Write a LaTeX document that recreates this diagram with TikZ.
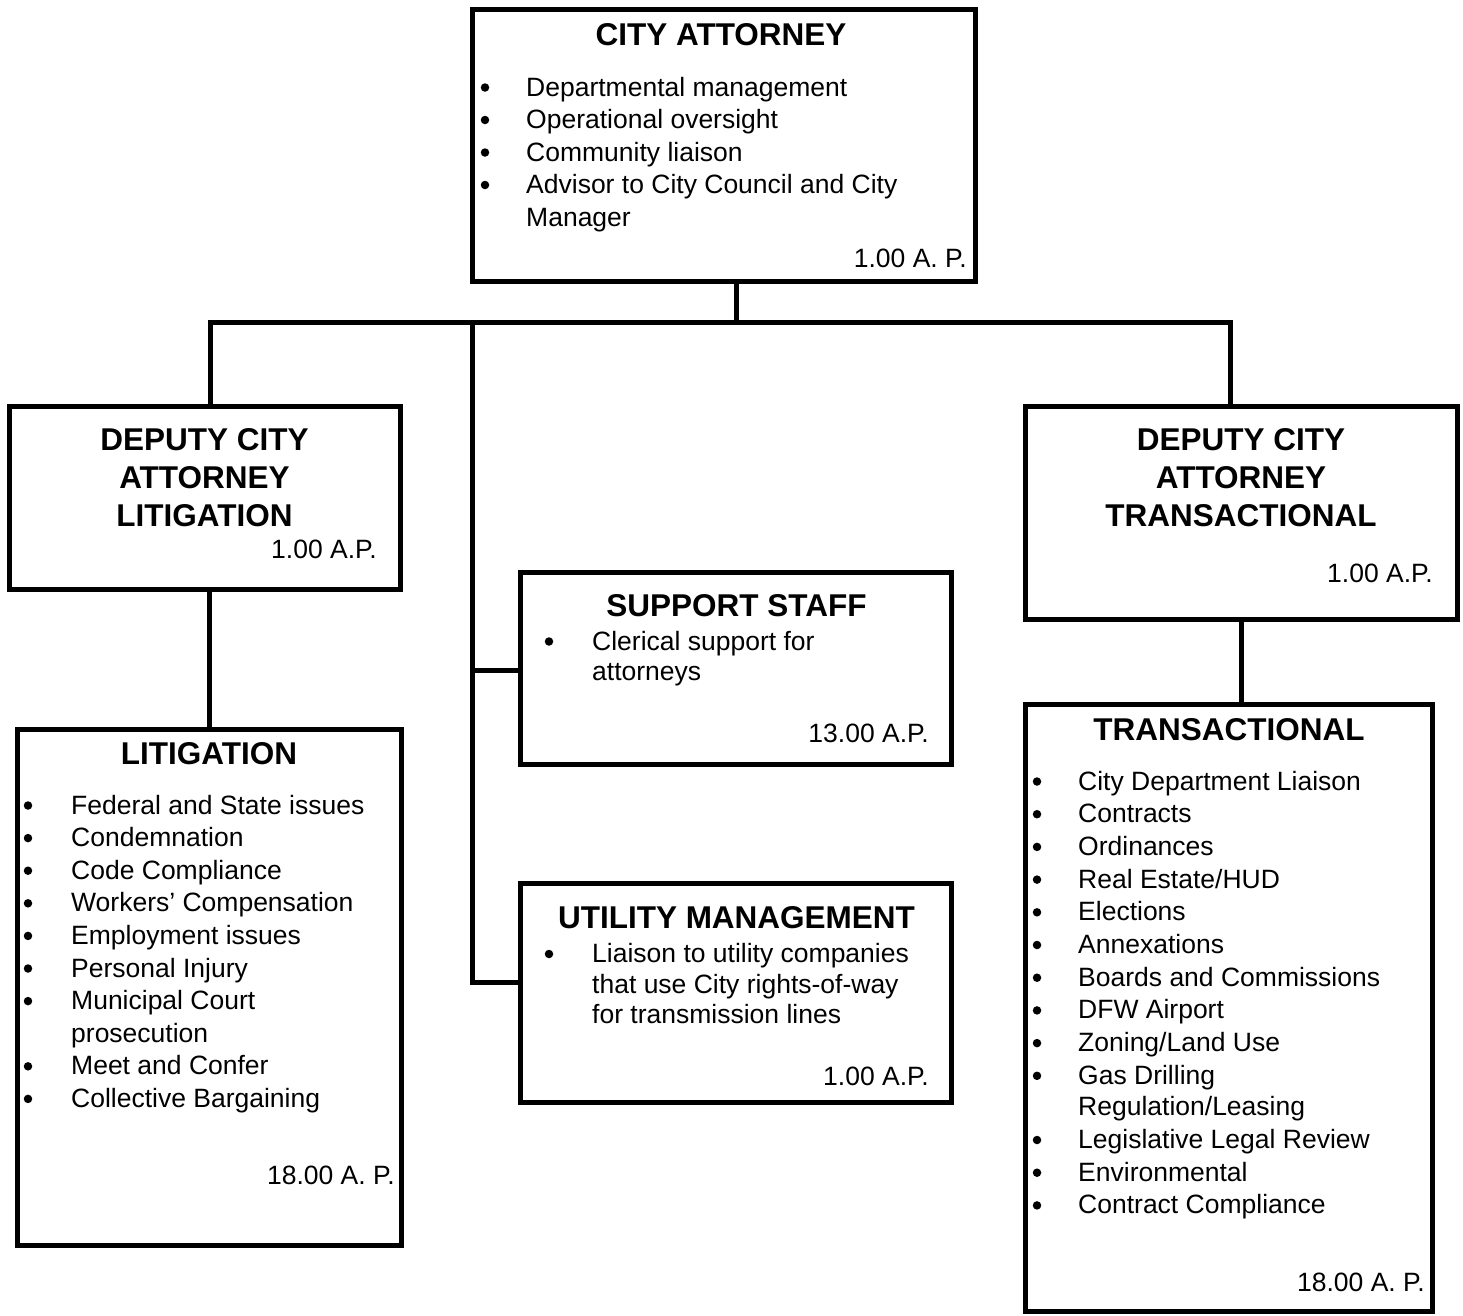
\documentclass[tikz,border=0pt]{standalone}
\usepackage{fontspec}
\setmainfont{Liberation Sans}
\begin{document}
\begin{tikzpicture}[x=1pt,y=-1pt,
  box/.style={draw=black, line width=5pt, fill=white, rectangle, inner sep=0pt, outer sep=0pt},
  conn/.style={draw=black, line width=5pt},
  ttl/.style={font=\fontsize{31.5}{38}\selectfont\bfseries, anchor=base, inner sep=0pt},
  itm/.style={font=\fontsize{26.5}{32.6}\selectfont, anchor=base west, inner sep=0pt},
  bul/.style={circle, fill=black, draw=none, minimum size=8.5pt, inner sep=0pt, yshift=8.5pt},
  ap/.style={font=\fontsize{26.5}{32.6}\selectfont, anchor=base east, inner sep=0pt}]
\useasboundingbox (0,0) rectangle (1463,1315);

% boxes
\node[box, minimum width=503pt, minimum height=271.5pt] (ca) at (723.5,145.25) {};
\node[box, minimum width=391.5pt, minimum height=183.5pt] (dl) at (204.75,497.75) {};
\node[box, minimum width=432.5pt, minimum height=213.5pt] (dt) at (1241.25,512.75) {};
\node[box, minimum width=431pt, minimum height=192.5pt] (ss) at (736,668.25) {};
\node[box, minimum width=431pt, minimum height=219pt] (um) at (736,992.5) {};
\node[box, minimum width=383.5pt, minimum height=516pt] (lit) at (209.25,987) {};
\node[box, minimum width=407pt, minimum height=606.5pt] (tr) at (1229,1007.75) {};

% connectors
\coordinate (j) at (736.5,322);
\coordinate (bl) at (210,322);
\coordinate (br) at (1230.5,322);
\coordinate (bv) at (472.5,322);
\coordinate (sj) at (472.5,670);
\coordinate (uj) at (472.5,982);
\draw[conn] (ca.south -| j) -- (j);
\draw[conn] (bl |- dl.north) -- (bl) -- (br) -- (br |- dt.north);
\draw[conn] (bv) -- (uj) -- (uj -| um.west);
\draw[conn] (sj) -- (sj -| ss.west);
\draw[conn] (dl.south -| lit.north) -- (lit.north);
\draw[conn] (dt.south) -- (dt.south |- tr.north);

% City Attorney
\node[ttl] (cat) at (721,45) {CITY ATTORNEY};
\node[bul] (cab1) at (485,96) {};
\node[itm] (ca1) at (526,96) {Departmental management};
\node[bul] (cab2) at (485,128.5) {};
\node[itm] (ca2) at (526,128.5) {Operational oversight};
\node[bul] (cab3) at (485,161) {};
\node[itm] (ca3) at (526,161) {Community liaison};
\node[bul] (cab4) at (485,193.5) {};
\node[itm] (ca4) at (526,193.5) {Advisor to City Council and City};
\node[itm] (ca5) at (526,226) {Manager};
\node[ap] (caap) at (967,267.5) {1.00 A. P.};

% Deputy Litigation
\node[ttl] (dlt1) at (204.5,450) {DEPUTY CITY};
\node[ttl] (dlt2) at (204.5,488) {ATTORNEY};
\node[ttl] (dlt3) at (204.5,526) {LITIGATION};
\node[ap] (dlap) at (377,558) {1.00 A.P.};

% Deputy Transactional
\node[ttl] (dtt1) at (1241,450) {DEPUTY CITY};
\node[ttl] (dtt2) at (1241,488) {ATTORNEY};
\node[ttl] (dtt3) at (1241,526) {TRANSACTIONAL};
\node[ap] (dtap) at (1433,582.5) {1.00 A.P.};

% Support staff
\node[ttl] (sst) at (736.5,616) {SUPPORT STAFF};
\node[bul] (ssb1) at (549,650) {};
\node[itm] (ss1) at (592,650) {Clerical support for};
\node[itm] (ss2) at (592,680.5) {attorneys};
\node[ap] (ssap) at (929,742.5) {13.00 A.P.};

% Utility management
\node[ttl] (umt) at (736.5,928) {UTILITY MANAGEMENT};
\node[bul] (umb1) at (549,962.5) {};
\node[itm] (um1) at (592,962.5) {Liaison to utility companies};
\node[itm] (um2) at (592,993) {that use City rights-of-way};
\node[itm] (um3) at (592,1023.5) {for transmission lines};
\node[ap] (umap) at (929,1085.5) {1.00 A.P.};

% Litigation
\node[ttl] (litt) at (209,764.5) {LITIGATION};
\node[bul] (litb1) at (28,814) {};
\node[itm] (lit1) at (71,814) {Federal and State issues};
\node[bul] (litb2) at (28,846.6) {};
\node[itm] (lit2) at (71,846.6) {Condemnation};
\node[bul] (litb3) at (28,879.2) {};
\node[itm] (lit3) at (71,879.2) {Code Compliance};
\node[bul] (litb4) at (28,911.8) {};
\node[itm] (lit4) at (71,911.8) {Workers’ Compensation};
\node[bul] (litb5) at (28,944.4) {};
\node[itm] (lit5) at (71,944.4) {Employment issues};
\node[bul] (litb6) at (28,977) {};
\node[itm] (lit6) at (71,977) {Personal Injury};
\node[bul] (litb7) at (28,1009.6) {};
\node[itm] (lit7) at (71,1009.6) {Municipal Court};
\node[itm] (lit8) at (71,1042.2) {prosecution};
\node[bul] (litb9) at (28,1074.8) {};
\node[itm] (lit9) at (71,1074.8) {Meet and Confer};
\node[bul] (litb10) at (28,1107.4) {};
\node[itm] (lit10) at (71,1107.4) {Collective Bargaining};
\node[ap] (litap) at (395,1184.5) {18.00 A. P.};

% Transactional
\node[ttl] (trt) at (1229,740.5) {TRANSACTIONAL};
\node[bul] (trb1) at (1037,790) {};
\node[itm] (tr1) at (1078,790) {City Department Liaison};
\node[bul] (trb2) at (1037,822.7) {};
\node[itm] (tr2) at (1078,822.7) {Contracts};
\node[bul] (trb3) at (1037,855.4) {};
\node[itm] (tr3) at (1078,855.4) {Ordinances};
\node[bul] (trb4) at (1037,888.1) {};
\node[itm] (tr4) at (1078,888.1) {Real Estate/HUD};
\node[bul] (trb5) at (1037,920.8) {};
\node[itm] (tr5) at (1078,920.8) {Elections};
\node[bul] (trb6) at (1037,953.5) {};
\node[itm] (tr6) at (1078,953.5) {Annexations};
\node[bul] (trb7) at (1037,986.2) {};
\node[itm] (tr7) at (1078,986.2) {Boards and Commissions};
\node[bul] (trb8) at (1037,1018.9) {};
\node[itm] (tr8) at (1078,1018.9) {DFW Airport};
\node[bul] (trb9) at (1037,1051.6) {};
\node[itm] (tr9) at (1078,1051.6) {Zoning/Land Use};
\node[bul] (trb10) at (1037,1084.3) {};
\node[itm] (tr10) at (1078,1084.3) {Gas Drilling};
\node[itm] (tr11) at (1078,1115.5) {Regulation/Leasing};
\node[bul] (trb12) at (1037,1148.5) {};
\node[itm] (tr12) at (1078,1148.5) {Legislative Legal Review};
\node[bul] (trb13) at (1037,1181.2) {};
\node[itm] (tr13) at (1078,1181.2) {Environmental};
\node[bul] (trb14) at (1037,1213.9) {};
\node[itm] (tr14) at (1078,1213.9) {Contract Compliance};
\node[ap] (trap) at (1425,1291.5) {18.00 A. P.};
\end{tikzpicture}
\end{document}
